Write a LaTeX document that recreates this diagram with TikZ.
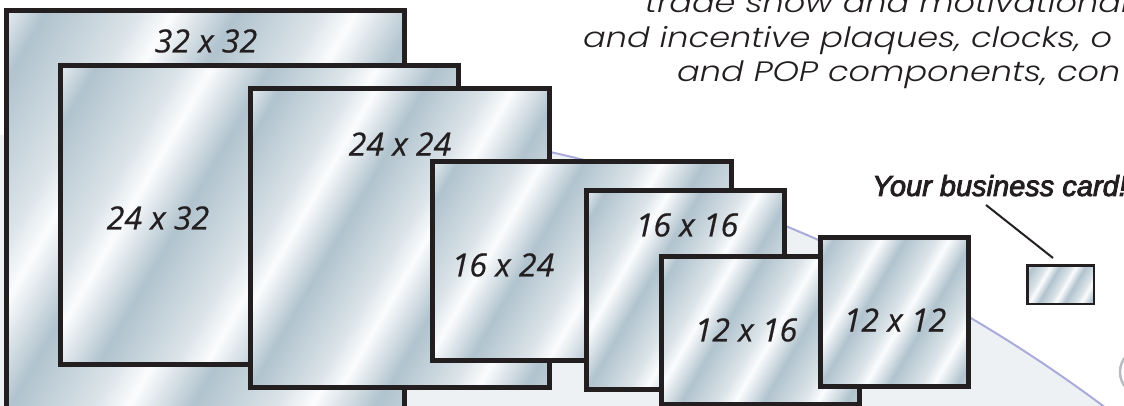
\documentclass[tikz,border=0pt]{standalone}
\usepackage{fontspec}
\setmainfont{Liberation Sans}
\newfontfamily\labelfont{Open Sans}[FakeBold=0.6]
\newfontfamily\cardfont{Liberation Sans}[FakeBold=3]
\newfontfamily\gothic{Poppins}[UprightFont={* Light}, ItalicFont={* Light Italic}, FakeStretch=1.2]
\definecolor{ink}{HTML}{231F20}
\definecolor{mB}{HTML}{B1C3CE}
\definecolor{mL}{HTML}{DAE3E8}
\definecolor{mW}{HTML}{FBFCFD}
\definecolor{globe}{HTML}{EEF1F4}
\definecolor{swoosh}{HTML}{A9ACDB}
\definecolor{ring}{HTML}{B9BBC2}
\pgfdeclarehorizontalshading{metal}{100bp}{color(0bp)=(mB); color(10bp)=(mL); color(14bp)=(mW); color(20bp)=(mB); color(30bp)=(mL); color(34bp)=(mW); color(41bp)=(mB); color(50bp)=(mL); color(54bp)=(mW); color(61bp)=(mB); color(70bp)=(mL); color(74bp)=(mW); color(81bp)=(mB); color(90bp)=(mL); color(94bp)=(mW); color(100bp)=(mB)}
\tikzset{
  plaque/.style={rectangle, draw=ink, line width=5pt, shade, shading=metal, shading angle=-30, inner sep=0pt, outer sep=0pt},
  sizelabel/.style={font=\labelfont\itshape\fontsize{32}{32}\selectfont, text=ink, inner sep=0pt},
  toptext/.style={font=\gothic\itshape\fontsize{28}{30}\selectfont, text=ink, inner sep=0pt},
  cardtext/.style={font=\cardfont\itshape\fontsize{29}{30}\selectfont, text=ink, inner sep=0pt}
}
\begin{document}
\begin{tikzpicture}[x=1pt, y=-1pt]
\useasboundingbox (0,0) rectangle (1124,406);
\fill[white] (0,0) rectangle (1124,406);
\begin{scope}
\clip (0,0) rectangle (1124,406);
\fill[globe] (231,1577) circle (1460);
\begin{scope}
\clip (420,0) rectangle (1124,406);
\draw[swoosh, line width=2pt] (231,1577) circle (1460);
\end{scope}
\draw[ring, line width=2.5pt] (1140,372) ellipse (20 and 22);
% text lines (cut by the page edge)
\node[toptext, anchor=base west] (t1) at (645,13) {trade show and motivational};
\node[toptext, anchor=base west] (t2) at (583,47.5) {and incentive plaques, clocks, o};
\node[toptext, anchor=base west] (t3) at (677,82) {and POP components, con};
% plaques
\node[plaque, minimum width=398pt, minimum height=398pt] (p3232) at (205,210) {};
\node[plaque, minimum width=398pt, minimum height=298pt] (p2432) at (259,215) {};
\node[plaque, minimum width=299pt, minimum height=298pt] (p2424) at (399.5,238) {};
\node[plaque, minimum width=299pt, minimum height=198pt] (p1624) at (581.5,261) {};
\node[plaque, minimum width=198pt, minimum height=198pt] (p1616) at (685,290) {};
\node[plaque, minimum width=198pt, minimum height=148pt] (p1216) at (760,330) {};
\node[plaque, minimum width=148pt, minimum height=149pt] (p1212) at (894,311.5) {};
\node[plaque, line width=2.7pt, minimum width=66.5pt, minimum height=38.5pt] (card) at (1060.75,284.75) {};
% labels
\node[sizelabel] (l3232) at (206,41) {32 x 32};
\node[sizelabel] (l2432) at (158,218) {24 x 32};
\node[sizelabel] (l2424) at (400,144) {24 x 24};
\node[sizelabel] (l1624) at (503,265) {16 x 24};
\node[sizelabel] (l1616) at (687,225) {16 x 16};
\node[sizelabel] (l1216) at (746,330) {12 x 16};
\node[sizelabel] (l1212) at (895,320) {12 x 12};
% business card callout
\node[cardtext, anchor=base west] (bc) at (872,196) {Your business card!};
\coordinate (leadA) at (986,205);
\coordinate (leadB) at (1053,258);
\draw[ink, line width=2pt] (leadA) -- (leadB);
\end{scope}
\end{tikzpicture}
\end{document}
